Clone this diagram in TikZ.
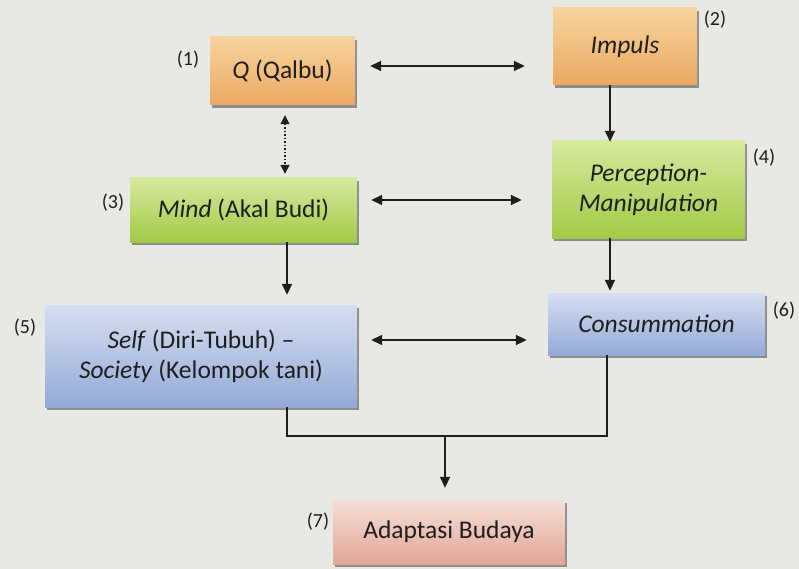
\documentclass[tikz,border=0pt]{standalone}
\usepackage{fontspec}
\setmainfont{Carlito}
\usetikzlibrary{arrows.meta,shadows,positioning}
\definecolor{bg}{HTML}{E8E8E5}
\definecolor{orT}{HTML}{F7D39C}
\definecolor{orB}{HTML}{EBA962}
\definecolor{grT}{HTML}{D6E99E}
\definecolor{grB}{HTML}{A2CA46}
\definecolor{blT}{HTML}{D6DFF2}
\definecolor{blB}{HTML}{94A9D6}
\definecolor{pkT}{HTML}{F6DED6}
\definecolor{pkB}{HTML}{E0A696}
\definecolor{ink}{HTML}{1E1E1E}
\tikzset{
  box/.style={rectangle, inner sep=2pt, align=center, text=ink,
    font=\fontsize{25.5}{30}\selectfont,
    drop shadow={shadow xshift=2pt, shadow yshift=-3pt, fill=black!80}},
  orbox/.style={box, top color=orT, bottom color=orB},
  grbox/.style={box, top color=grT, bottom color=grB},
  blbox/.style={box, top color=blT, bottom color=blB},
  pkbox/.style={box, top color=pkT, bottom color=pkB},
  num/.style={text=ink, font=\fontsize{20}{24}\selectfont},
  conn/.style={draw=ink, line width=1.8pt},
  tip/.style={-{Triangle[length=11pt,width=10pt]}},
  dbl/.style={{Triangle[length=11pt,width=10pt]}-{Triangle[length=11pt,width=10pt]}},
}
\begin{document}
\begin{tikzpicture}[x=1pt,y=-1pt]
\fill[bg] (0,0) rectangle (799,569);
\useasboundingbox (0,0) rectangle (799,569);

\node[orbox, minimum width=145pt, minimum height=68pt] (Q) at (282.5,71) {\textit{Q} (Qalbu)};
\node[orbox, minimum width=144pt, minimum height=77pt] (I) at (625,46.5) {\textit{Impuls}};
\node[grbox, minimum width=227pt, minimum height=64pt] (M) at (243.5,210) {\textit{Mind} (Akal Budi)};
\node[grbox, minimum width=193pt, minimum height=97pt] (P) at (648.5,189.5) {\textit{Perception-}\\\textit{Manipulation}};
\node[blbox, minimum width=312pt, minimum height=102pt] (S) at (201,356) {\textit{Self} (Diri-Tubuh) --\\\textit{Society} (Kelompok tani)};
\node[blbox, minimum width=217pt, minimum height=62pt] (C) at (656.5,324) {\textit{Consummation}};
\node[pkbox, minimum width=232pt, minimum height=64pt] (A) at (449,532) {Adaptasi Budaya};

\node[num] (n1) at (188,60) {(1)};
\node[num] (n2) at (715,20) {(2)};
\node[num] (n3) at (113,203) {(3)};
\node[num] (n4) at (764,158) {(4)};
\node[num] (n5) at (25,328) {(5)};
\node[num] (n6) at (784,311) {(6)};
\node[num] (n7) at (318,522) {(7)};

% horizontal double arrows
\draw[conn, dbl] ([xshift=15pt,yshift=5pt]Q.east) -- ([xshift=-28pt,yshift=5pt]Q.east -| I.west);
\draw[conn, dbl] ([xshift=14pt,yshift=10pt]M.east) -- ([xshift=-30pt,yshift=10pt]M.east -| P.west);
\draw[conn, dbl] ([xshift=14pt,yshift=16pt]S.east) -- ([xshift=-21pt,yshift=16pt]S.east -| C.west);

% dotted double arrow Q - Mind
\draw[conn, line width=1.5pt, dotted, {Triangle[length=9pt,width=9pt]}-{Triangle[length=9pt,width=9pt]}]
  ([xshift=2.5pt,yshift=-10pt]Q.south) -- ([xshift=41.5pt,yshift=4pt]M.north);

% vertical arrows
\draw[conn, tip] ([xshift=-15pt]I.south) -- ([xshift=-15pt,yshift=-1pt]I.south |- P.north);
\draw[conn, tip] ([xshift=-38.5pt]P.south) -- ([xshift=-38.5pt,yshift=2pt]P.south |- C.north);
\draw[conn, tip] ([xshift=43.5pt]M.south) -- ([xshift=43.5pt,yshift=10pt]M.south |- S.north);

% merge to Adaptasi
\coordinate (j) at (445,436);
\draw[conn] ([xshift=86pt]S.south) -- ([xshift=86pt]S.south |- j) -- ([xshift=-49.5pt]C.south |- j) -- ([xshift=-49.5pt]C.south);
\draw[conn, tip] (j) -- ([yshift=12pt]j |- A.north);
\end{tikzpicture}
\end{document}
